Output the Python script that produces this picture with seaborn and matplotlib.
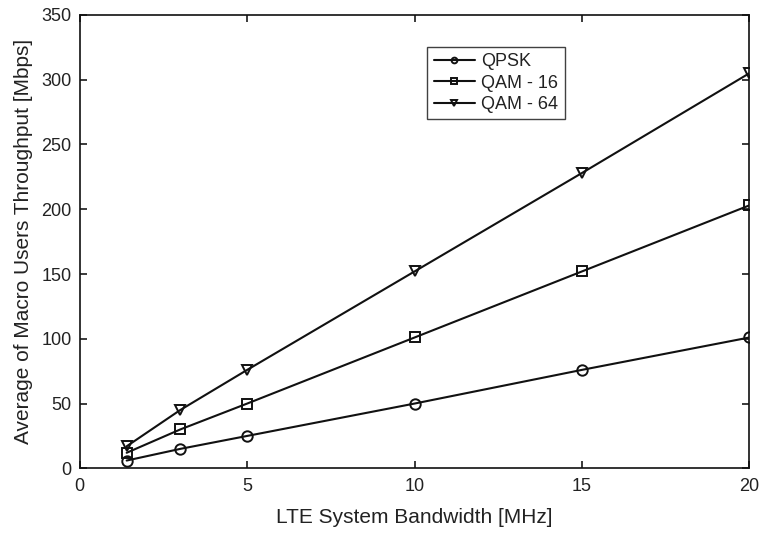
import numpy as np
import matplotlib
matplotlib.use("Agg")
import matplotlib.pyplot as plt
import seaborn as sns
import pandas as pd

# Data
bandwidth = [1.4, 3, 5, 10, 15, 20]
qpsk = [6, 15, 25, 50, 76, 101]
qam16 = [12, 30, 50, 101, 152, 203]
qam64 = [17, 45, 76, 152, 228, 305]
series_names = ["QPSK", "QAM - 16", "QAM - 64"]
markers = ["o", "s", "v"]

df = pd.DataFrame({
    "bw": bandwidth * 3,
    "thr": qpsk + qam16 + qam64,
    "scheme": [n for n in series_names for _ in bandwidth],
})

sns.set_theme(style="ticks")
plt.rcParams["font.family"] = ["Liberation Sans", "DejaVu Sans"]

fig, ax = plt.subplots(figsize=(7.6, 5.34), dpi=100)
sns.lineplot(data=df, x="bw", y="thr", hue="scheme", style="scheme",
             markers=markers, dashes=False, palette=["#111111"] * 3,
             markersize=7.5, markerfacecolor="none", markeredgecolor="#111111",
             markeredgewidth=1.4, linewidth=1.5, ax=ax)

ax.set_xlim(0, 20)
ax.set_ylim(0, 350)
ax.set_xticks([0, 5, 10, 15, 20])
ax.set_yticks(np.arange(0, 351, 50))
ax.tick_params(direction="in", labelsize=13, length=5, top=True, right=True,
               colors="#222222")
ax.tick_params(axis="x", pad=7)
ax.tick_params(axis="y", pad=6)
for s in ax.spines.values():
    s.set_visible(True)
    s.set_linewidth(1.2)
    s.set_color("#111111")
ax.set_xlabel("LTE System Bandwidth [MHz]", fontsize=15, labelpad=9,
              color="#222222")
ax.set_ylabel("Average of Macro Users Throughput [Mbps]", fontsize=15,
              labelpad=6, color="#222222")

leg = ax.legend(title=None, loc="upper left", bbox_to_anchor=(0.519, 0.93),
                fontsize=13, frameon=True, fancybox=False, edgecolor="#111111",
                markerscale=0.55, handlelength=2.3, handletextpad=0.35,
                borderpad=0.35, labelspacing=0.25, borderaxespad=0)
leg.get_frame().set_linewidth(1.0)
for t in leg.get_texts():
    t.set_color("#222222")

fig.subplots_adjust(left=0.105, right=0.986, top=0.972, bottom=0.123)
fig.savefig("out.png", dpi=100)
